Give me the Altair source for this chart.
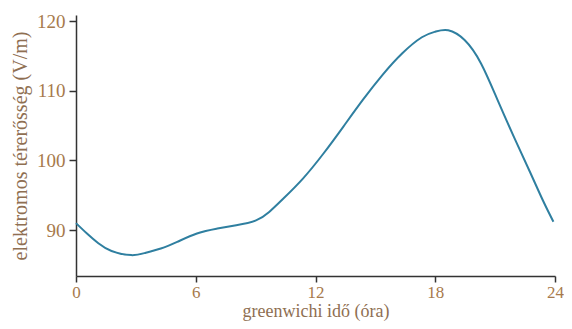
import altair as alt
import pandas as pd

hours = [0, 0.55, 1.12, 1.78, 2.77, 3.5, 4.25, 5.07, 6.06, 7.04, 8.03, 9.02, 9.68, 10.38, 11.37, 12.4, 13.38,
         14.37, 15.36, 16.35, 17.33, 18.0, 18.65, 19.47, 20.3, 21.12, 21.94, 22.77, 23.42, 23.92]
field = [91.0, 89.5, 88.1, 87.0, 86.4, 86.75, 87.35, 88.3, 89.5, 90.2, 90.7, 91.4, 92.6, 94.5, 97.4, 101.0, 104.8,
         108.7, 112.3, 115.4, 117.7, 118.5, 118.7, 117.3, 113.9, 108.7, 103.4, 98.2, 94.1, 91.2]

x_ticks = [0, 6, 12, 18, 24]
y_ticks = [90, 100, 110, 120]

df = pd.DataFrame({"t": hours, "e": field})

label_color = "#a77a4c"
title_color = "#8f6f52"
font = "Liberation Serif"

chart = alt.Chart(df).mark_line(color="#2f7fa0", strokeWidth=2, interpolate="natural").encode(
    x=alt.X("t:Q", scale=alt.Scale(domain=[0, 24], nice=False, zero=False),
            axis=alt.Axis(values=x_ticks, title="greenwichi idő (óra)", grid=False,
                          domainColor="#333333", domainWidth=1.5, tickColor="#333333", tickWidth=1.5,
                          tickSize=6, labelPadding=2, labelFontSize=17, labelColor=label_color,
                          labelFont=font, titleFont=font, titleFontSize=18, titleFontWeight="normal",
                          titleColor=title_color, titlePadding=2, labelFlush=False)),
    y=alt.Y("e:Q", scale=alt.Scale(domain=[83.4, 120.9], nice=False, zero=False),
            axis=alt.Axis(values=y_ticks, title="elektromos térerősség (V/m)", grid=False,
                          domainColor="#333333", domainWidth=1.5, tickColor="#333333", tickWidth=1.5,
                          tickSize=7, labelPadding=4, labelFontSize=19, labelColor=label_color,
                          labelFont=font, titleFont=font, titleFontSize=20, titleFontWeight="normal",
                          titleColor=title_color, titlePadding=6)),
).properties(
    width=479, height=261,
    autosize=alt.AutoSizeParams(type="none"),
    padding={"left": 68, "top": 7, "right": 9, "bottom": 45},
).configure_view(stroke=None)

chart.save("out.html", embed_options={"renderer": "svg", "actions": False})
